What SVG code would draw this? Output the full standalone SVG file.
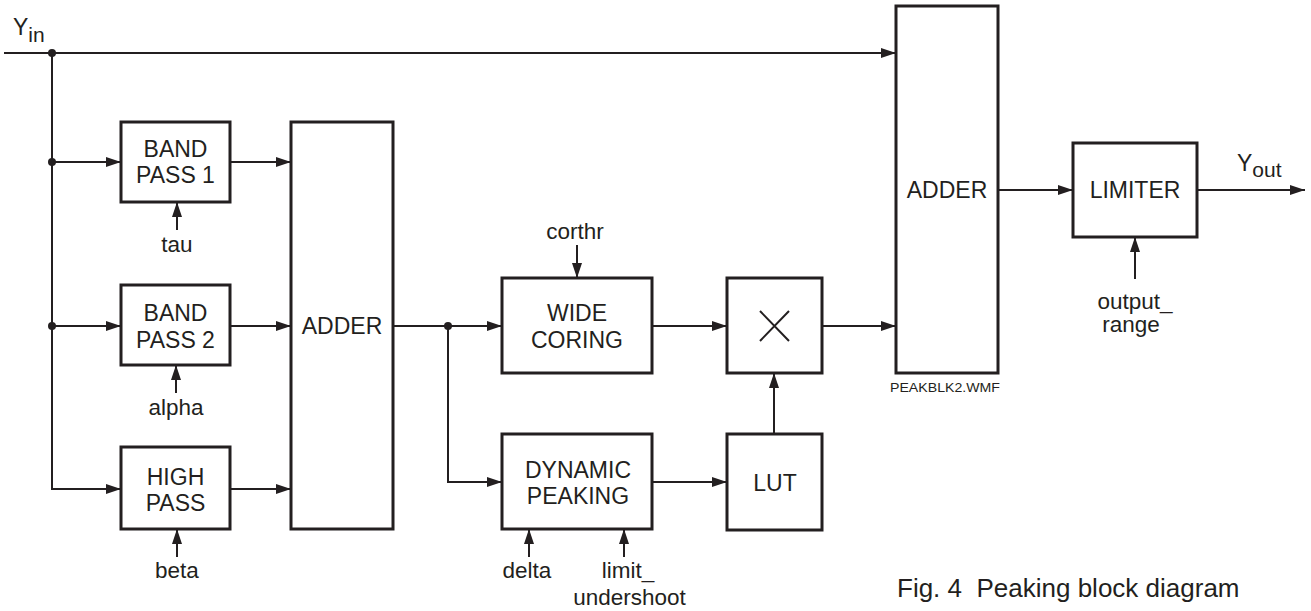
<svg xmlns="http://www.w3.org/2000/svg" width="1311" height="611" viewBox="0 0 1311 611">
<defs>
<marker id="ah" markerWidth="15" markerHeight="10" refX="15" refY="5" orient="auto" markerUnits="userSpaceOnUse">
<path d="M0,0 L15,5 L0,10 Z" fill="#231f20"/>
</marker>
<style>
.box{fill:#fff;stroke:#231f20;stroke-width:3}
.ln{fill:none;stroke:#231f20;stroke-width:2}
.ar{fill:none;stroke:#231f20;stroke-width:2;marker-end:url(#ah)}
.dot{fill:#231f20}
text{font-family:"Liberation Sans",Arial,sans-serif;fill:#231f20}
.t{font-size:23px;text-anchor:middle}
.l{font-size:22.5px;text-anchor:middle}
</style>
</defs>
<rect width="1311" height="611" fill="#fff"/>
<g id="connectors">
<line class="ar" x1="4" y1="53" x2="896" y2="53"/>
<polyline class="ln" points="52,53 52,489 56,489"/>
<line class="ar" x1="52" y1="162" x2="121" y2="162"/>
<line class="ar" x1="52" y1="326" x2="121" y2="326"/>
<line class="ar" x1="52" y1="489" x2="121" y2="489"/>
<line class="ar" x1="230" y1="162" x2="291" y2="162"/>
<line class="ar" x1="230" y1="326" x2="291" y2="326"/>
<line class="ar" x1="230" y1="489" x2="291" y2="489"/>
<line class="ar" x1="177" y1="230" x2="177" y2="202"/>
<line class="ar" x1="176" y1="393" x2="176" y2="365"/>
<line class="ar" x1="177" y1="557" x2="177" y2="529"/>
<line class="ar" x1="393" y1="326" x2="502" y2="326"/>
<polyline class="ar" points="448,326 448,482 502,482"/>
<line class="ar" x1="577" y1="245" x2="577" y2="278"/>
<line class="ar" x1="529" y1="557" x2="529" y2="529"/>
<line class="ar" x1="624" y1="557" x2="624" y2="529"/>
<line class="ar" x1="652" y1="326" x2="727" y2="326"/>
<line class="ar" x1="652" y1="482" x2="727" y2="482"/>
<line class="ar" x1="774" y1="434" x2="774" y2="373"/>
<line class="ar" x1="822" y1="326" x2="896" y2="326"/>
<line class="ar" x1="998" y1="190" x2="1073" y2="190"/>
<line class="ar" x1="1197" y1="190" x2="1305" y2="190"/>
<line class="ar" x1="1135" y1="279" x2="1135" y2="237"/>
<circle class="dot" cx="52" cy="53" r="4"/>
<circle class="dot" cx="52" cy="162" r="4"/>
<circle class="dot" cx="52" cy="326" r="4"/>
<circle class="dot" cx="448" cy="326" r="4"/>
</g>
<g id="yin"><text x="13" y="35" font-size="23">Y<tspan font-size="21" dy="7">in</tspan></text></g>
<g id="bp1"><rect class="box" x="121" y="122" width="109" height="80"/><text class="t" x="175.5" y="157">BAND</text><text class="t" x="175.5" y="183">PASS 1</text></g>
<g id="tau"><text class="l" x="177" y="252">tau</text></g>
<g id="bp2"><rect class="box" x="121" y="285" width="109" height="80"/><text class="t" x="175.5" y="321">BAND</text><text class="t" x="175.5" y="348">PASS 2</text></g>
<g id="alpha"><text class="l" x="176" y="415">alpha</text></g>
<g id="hp"><rect class="box" x="121" y="447" width="109" height="82"/><text class="t" x="175.5" y="485">HIGH</text><text class="t" x="175.5" y="511">PASS</text></g>
<g id="beta"><text class="l" x="177" y="578">beta</text></g>
<g id="adder1"><rect class="box" x="291" y="122" width="102" height="407"/><text class="t" x="342" y="334">ADDER</text></g>
<g id="corthr"><text class="l" x="575" y="239">corthr</text></g>
<g id="wc"><rect class="box" x="502" y="278" width="150" height="95"/><text class="t" x="577" y="321">WIDE</text><text class="t" x="577" y="348">CORING</text></g>
<g id="dp"><rect class="box" x="502" y="434" width="150" height="95"/><text class="t" x="578" y="478">DYNAMIC</text><text class="t" x="578" y="504">PEAKING</text></g>
<g id="delta"><text class="l" x="527" y="578">delta</text></g>
<g id="limit"><text class="l" x="628" y="578">limit_</text><text class="l" x="629.5" y="605">undershoot</text></g>
<g id="mult"><rect class="box" x="727" y="278" width="95" height="95"/><path d="M760,311 L789,341 M789,311 L760,341" stroke="#231f20" stroke-width="2" fill="none"/></g>
<g id="lut"><rect class="box" x="727" y="434" width="95" height="96"/><text class="t" x="775" y="491">LUT</text></g>
<g id="adder2"><rect class="box" x="896" y="6" width="102" height="367"/><text class="t" x="947" y="198">ADDER</text></g>
<g id="peakblk"><text x="945" y="392" font-size="13.5" text-anchor="middle" textLength="110" lengthAdjust="spacingAndGlyphs">PEAKBLK2.WMF</text></g>
<g id="limiter"><rect class="box" x="1073" y="143" width="124" height="94"/><text class="t" x="1135" y="198">LIMITER</text></g>
<g id="yout"><text x="1237" y="171" font-size="23">Y<tspan font-size="21" dy="6">out</tspan></text></g>
<g id="outrange"><text class="l" x="1135" y="309">output_</text><text class="l" x="1131" y="332">range</text></g>
<g id="caption"><text x="897" y="597" font-size="26">Fig. 4&#160; Peaking block diagram</text></g>
</svg>
